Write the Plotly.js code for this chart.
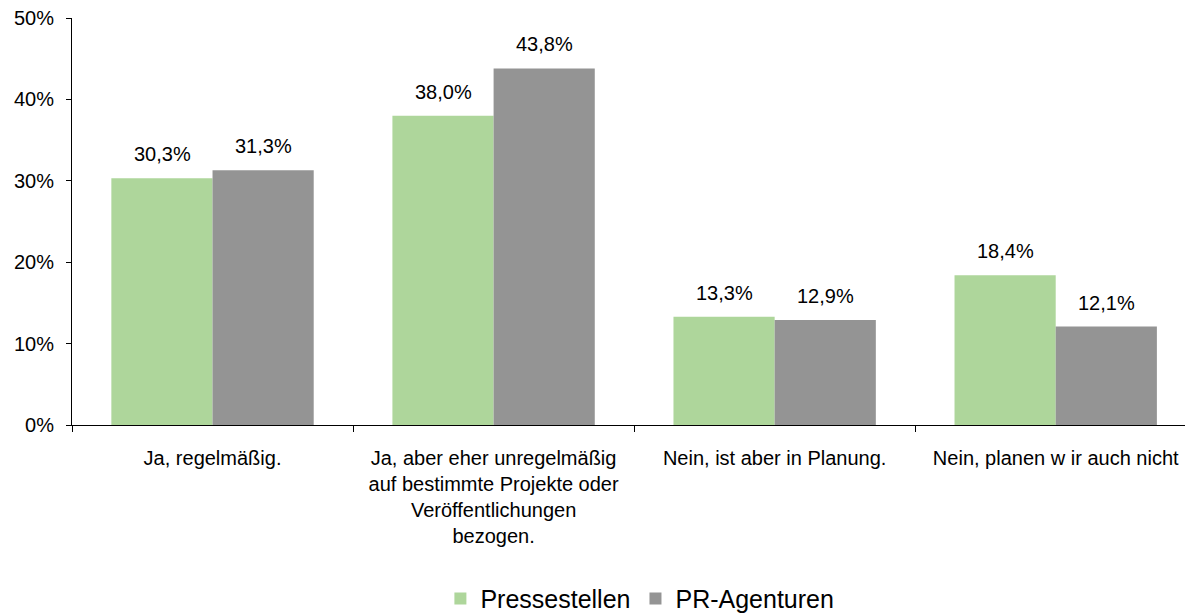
<!DOCTYPE html>
<html><head><meta charset="utf-8">
<script src="https://cdn.plot.ly/plotly-3.0.1.min.js"></script>
<style>body{margin:0;background:#fff}#c{width:1185px;height:616px}</style>
</head><body><div id="c"></div>
<script>
const categories = [
  "Ja, regelmäßig.",
  "Ja, aber eher unregelmäßig<br>auf bestimmte Projekte oder<br>Veröffentlichungen<br>bezogen.",
  "Nein, ist aber in Planung.",
  "Nein, planen w ir auch nicht"
];
const seriesNames = ["Pressestellen", "PR-Agenturen"];
const pressestellen = [30.3, 38.0, 13.3, 18.4];
const prAgenturen = [31.3, 43.8, 12.9, 12.1];
const colors = ["#AED69B", "#949494"];
const font = "Liberation Sans, Arial, sans-serif";
const fmt = v => v.toFixed(1).replace(".", ",") + "%";

const mk = (name, y, color) => ({
  type: "bar", name: name, x: categories, y: y,
  marker: {color: color}, hoverinfo: "skip"
});

const annotations = [];
[pressestellen, prAgenturen].forEach((arr, si) => {
  arr.forEach((v, i) => {
    annotations.push({
      x: categories[i], y: v, xref: "x", yref: "y",
      text: fmt(v), showarrow: false,
      xanchor: "center", yanchor: "bottom",
      xshift: si === 0 ? -50.5 : 50.5, yshift: 11,
      font: {family: font, size: 20, color: "#000"}
    });
  });
});

Plotly.newPlot("c", [mk(seriesNames[0], pressestellen, colors[0]), mk(seriesNames[1], prAgenturen, colors[1])], {
  width: 1185, height: 616,
  margin: {l: 72, r: 0, t: 18, b: 191, autoexpand: false},
  barmode: "group", bargap: 0.28, bargroupgap: 0,
  paper_bgcolor: "#fff", plot_bgcolor: "#fff",
  font: {family: font, size: 20, color: "#000"},
  showlegend: true,
  annotations: annotations,
  legend: {orientation: "h", x: 0.54, xanchor: "center", xref: "container",
           y: 0.028, yanchor: "middle", yref: "container",
           font: {family: font, size: 25, color: "#000"}, itemwidth: 30, traceorder: "normal"},
  xaxis: {
    type: "category", range: [-0.5, 3.46],
    showline: true, linecolor: "#000", linewidth: 1,
    ticks: "outside", tickson: "boundaries", ticklen: 6, tickcolor: "#000",
    ticklabelstandoff: 15,
    showgrid: false, tickfont: {family: font, size: 20, color: "#000"}
  },
  yaxis: {
    range: [0, 50], dtick: 10, ticksuffix: "%",
    showline: true, linecolor: "#000", linewidth: 1,
    ticks: "outside", ticklen: 5, tickcolor: "#000",
    ticklabelstandoff: 8,
    showgrid: false, zeroline: false,
    tickfont: {family: font, size: 20, color: "#000"}
  }
}, {displayModeBar: false, staticPlot: true});
</script>
</body></html>
